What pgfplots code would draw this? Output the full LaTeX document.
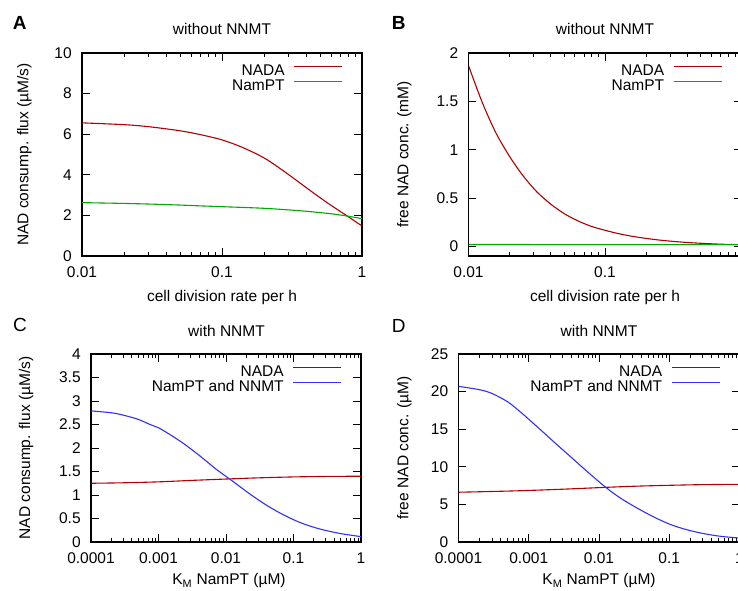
\documentclass[border=0pt]{standalone}
\usepackage{fontspec}
\setmainfont{Liberation Sans}
\usepackage{pgfplots}
\pgfplotsset{compat=1.18}

\definecolor{cred}{HTML}{B00000}
\definecolor{cgreen}{HTML}{00A800}
\definecolor{cblue}{HTML}{3030FF}

\pgfplotsset{
  panel/.style={
    scale only axis,
    anchor=south west,
    axis line style={line width=1.3pt},
    tick align=inside,
    tick style={black, line width=0.7pt},
    major tick length=8pt,
    minor tick length=4pt,
    /pgf/number format/assume math mode=true,
    xticklabel style={yshift=-5.5pt},
    yticklabel style={xshift=-5pt},
    legend style={draw=none, fill=none, at={(rel axis cs:1,1)}, anchor=north east,
      xshift=-19pt, yshift=-11pt, inner sep=0pt, row sep=0pt,
      nodes={inner sep=0pt, text height=11pt, text depth=4pt},
      /tikz/every odd column/.style={column sep=9pt}},
    legend cell align=right,
    legend plot pos=right,
    legend image code/.code={\draw[##1] (0pt,5.5pt) -- (48pt,5.5pt);},
    every axis plot/.append style={line width=1.1pt, smooth, tension=0.5},
  },
  rate/.style={
    xmin=0.01, xmax=1,
    xtick={0.01,0.1,1}, xticklabels={0.01,0.1,1},
    minor xtick={0.02,0.03,0.04,0.05,0.06,0.07,0.08,0.09,0.2,0.3,0.4,0.5,0.6,0.7,0.8,0.9},
  },
  km/.style={
    xmin=0.0001, xmax=1,
    xtick={0.0001,0.001,0.01,0.1,1}, xticklabels={0.0001,0.001,0.01,0.1,1},
    minor xtick={0.0002,0.0003,0.0004,0.0005,0.0006,0.0007,0.0008,0.0009,
      0.002,0.003,0.004,0.005,0.006,0.007,0.008,0.009,
      0.02,0.03,0.04,0.05,0.06,0.07,0.08,0.09,
      0.2,0.3,0.4,0.5,0.6,0.7,0.8,0.9},
  },
}

\begin{document}
\fontsize{15.5}{18}\selectfont
\begin{tikzpicture}
\useasboundingbox (0pt,0pt) rectangle (738pt,-590pt);

% A: consumption flux without NNMT
\begin{axis}[xmode=log, panel, rate, at={(82pt,-256pt)}, width=280pt, height=203pt,
  ymin=0, ymax=10, ytick={0,2,4,6,8,10}]
\addplot[cred] coordinates {
  (0.01,6.56) (0.02,6.47) (0.03,6.37) (0.05,6.17) (0.07,5.98)
  (0.1,5.72) (0.14,5.35) (0.2,4.83) (0.27,4.23) (0.36,3.60) (0.475,2.99)
  (0.6,2.50) (0.78,1.98) (1,1.48)
};
\addlegendentry{NADA}
\addplot[cgreen] coordinates {
  (0.01,2.63) (0.02,2.59) (0.03,2.56) (0.05,2.51) (0.07,2.47) (0.1,2.43)
  (0.2,2.35) (0.36,2.23) (0.5,2.14) (0.62,2.07) (0.78,1.97) (1,1.84)
};
\addlegendentry{NamPT}
\end{axis}

% B: free NAD without NNMT
\begin{axis}[xmode=log, panel, rate, at={(468.5pt,-256pt)}, width=273pt, height=203pt,
  ymin=-0.1, ymax=2, ytick={0,0.5,1,1.5,2}]
\addplot[cred] coordinates {
  (0.01,1.87) (0.0126,1.49) (0.0158,1.18) (0.02,0.93) (0.0251,0.73)
  (0.0316,0.565) (0.0398,0.44) (0.05,0.34) (0.063,0.265) (0.079,0.208)
  (0.1,0.166) (0.126,0.131) (0.158,0.104) (0.2,0.082) (0.25,0.065)
  (0.316,0.051) (0.4,0.04) (0.5,0.032) (0.63,0.025) (0.79,0.02) (1,0.016)
};
\addlegendentry{NADA}
\addplot[cgreen] coordinates {
  (0.01,0.019) (0.1,0.018) (1,0.017)
};
\addlegendentry{NamPT}
\end{axis}

% C: consumption flux with NNMT
\begin{axis}[xmode=log, panel, km, at={(91pt,-542pt)}, width=270pt, height=188pt,
  ymin=0, ymax=4, ytick={0,0.5,1,1.5,2,2.5,3,3.5,4}]
\addplot[cred] coordinates {
  (0.0001,1.25) (0.0003,1.26) (0.001,1.28) (0.003,1.31) (0.01,1.34)
  (0.03,1.365) (0.1,1.385) (0.3,1.395) (1,1.40)
};
\addlegendentry{NADA}
\addplot[cblue] coordinates {
  (0.0001,2.79) (0.0002,2.75) (0.0003,2.70) (0.0005,2.61) (0.00075,2.50)
  (0.001,2.43) (0.00132,2.33) (0.00233,2.10) (0.00412,1.83) (0.00728,1.54)
  (0.0121,1.31) (0.0227,1.02) (0.0401,0.78) (0.0707,0.58) (0.125,0.415)
  (0.221,0.295) (0.389,0.21) (0.6,0.16) (1,0.115)
};
\addlegendentry{NamPT and NNMT}
\end{axis}

% D: free NAD with NNMT
\begin{axis}[xmode=log, panel, km, at={(458.5pt,-542pt)}, width=281pt, height=188pt,
  ymin=0, ymax=25, ytick={0,5,10,15,20,25}]
\addplot[cred] coordinates {
  (0.0001,6.62) (0.0003,6.72) (0.00076,6.82) (0.003,7.02) (0.0125,7.27)
  (0.035,7.43) (0.1,7.54) (0.3,7.63) (1,7.67)
};
\addlegendentry{NADA}
\addplot[cblue] coordinates {
  (0.0001,20.7) (0.0002,20.25) (0.0003,19.75) (0.0005,18.65) (0.00076,17.3)
  (0.00132,15.32) (0.00228,13.31) (0.00394,11.34) (0.00683,9.35) (0.01247,7.27)
  (0.0204,5.81) (0.0354,4.48) (0.0611,3.3) (0.1057,2.3) (0.183,1.6)
  (0.316,1.1) (0.547,0.75) (1,0.53)
};
\addlegendentry{NamPT and NNMT}
\end{axis}

% panel letters, titles and axis labels
\begin{scope}[every node/.style={inner sep=0pt}]
\node[anchor=base west, font=\fontsize{19}{22}\selectfont\bfseries] at (12.7pt,-29.3pt) {A};
\node[anchor=base west, font=\fontsize{19}{22}\selectfont\bfseries] at (391.7pt,-29.5pt) {B};
\node[anchor=base west, font=\fontsize{19}{22}\selectfont] at (13pt,-331.7pt) {C};
\node[anchor=base west, font=\fontsize{19}{22}\selectfont] at (391.7pt,-332.3pt) {D};

\node[anchor=base] at (222pt,-34.5pt) {without NNMT};
\node[anchor=base] at (605pt,-34.5pt) {without NNMT};
\node[anchor=base] at (226.5pt,-336.7pt) {with NNMT};
\node[anchor=base] at (599pt,-336.7pt) {with NNMT};

\node[anchor=base] at (222pt,-301.3pt) {cell division rate per h};
\node[anchor=base] at (605pt,-301.3pt) {cell division rate per h};
\node[anchor=base] at (229pt,-584.5pt) {K\textsubscript{M} NamPT (µM)};
\node[anchor=base] at (599pt,-584.5pt) {K\textsubscript{M} NamPT (µM)};

\node[anchor=base, rotate=90] at (28.4pt,-154.5pt) {NAD consump. flux (µM/s)};
\node[anchor=base, rotate=90] at (408.4pt,-154.5pt) {free NAD conc. (mM)};
\node[anchor=base, rotate=90] at (30pt,-448pt) {NAD consump. flux (µM/s)};
\node[anchor=base, rotate=90] at (408.4pt,-448pt) {free NAD conc. (µM)};
\end{scope}
\end{tikzpicture}
\end{document}
